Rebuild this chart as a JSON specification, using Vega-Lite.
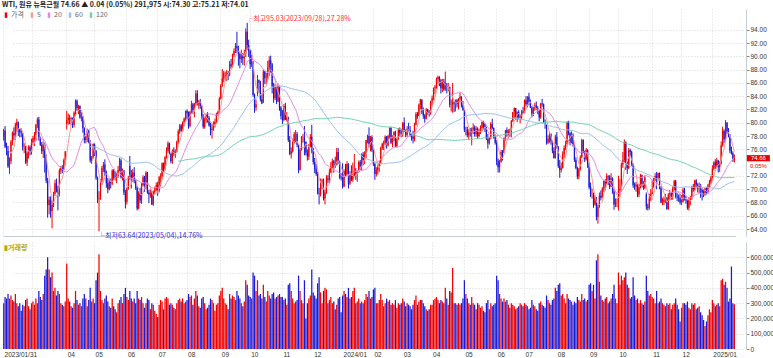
{
"$schema":"https://vega.github.io/schema/vega-lite/v6.json",
"padding":{"top":1,"left":0,"right":0,"bottom":0},
"background":"white",
"spacing":2,
"config":{"font":"Noto Sans CJK KR","view":{"stroke":null},"axis":{"labelFontSize":6.5,"labelFont":"Liberation Sans","labelColor":"#333","gridColor":"#d6d6d6","gridDash":[1,2],"domainColor":"#c5ccd8","tickColor":"#888","tickSize":3,"labelPadding":1,"labelOverlap":false,"labelSeparation":0},"axisY":{"labelOverlap":false},"axisRight":{"labelOverlap":false},"axisQuantitative":{"labelOverlap":false}},
"title":{"text":"WTI, 원유 뉴욕근월   74.66  ▲ 0.04 (0.05%)    291,975  시:74.30  고:75.21  저:74.01","anchor":"start","fontSize":7,"fontWeight":"bold","color":"#222","offset":1,"dx":2},
"datasets":{"wti":[
{"d":"2023-01-31","o":77.9,"h":79.1,"l":77.3,"c":78.9,"v":300},
{"d":"2023-02-01","o":78.8,"h":79.5,"l":76.2,"c":76.4,"v":340},
{"d":"2023-02-02","o":76.5,"h":77.0,"l":75.1,"c":75.9,"v":330},
{"d":"2023-02-03","o":75.8,"h":76.5,"l":73.2,"c":73.4,"v":360},
{"d":"2023-02-06","o":73.5,"h":74.8,"l":72.3,"c":74.1,"v":330},
{"d":"2023-02-07","o":74.2,"h":77.4,"l":73.8,"c":77.1,"v":350},
{"d":"2023-02-08","o":77.1,"h":78.7,"l":76.6,"c":78.5,"v":320},
{"d":"2023-02-09","o":78.4,"h":79.3,"l":77.4,"c":78.1,"v":310},
{"d":"2023-02-10","o":78.0,"h":80.0,"l":77.4,"c":79.7,"v":360},
{"d":"2023-02-13","o":79.6,"h":80.6,"l":78.6,"c":80.1,"v":300},
{"d":"2023-02-14","o":80.0,"h":80.2,"l":78.0,"c":79.1,"v":280},
{"d":"2023-02-15","o":79.0,"h":79.1,"l":77.8,"c":78.6,"v":300},
{"d":"2023-02-16","o":78.7,"h":79.2,"l":77.8,"c":78.5,"v":250},
{"d":"2023-02-17","o":78.4,"h":78.5,"l":75.8,"c":76.3,"v":290},
{"d":"2023-02-21","o":76.4,"h":76.9,"l":75.4,"c":76.4,"v":280},
{"d":"2023-02-22","o":76.4,"h":76.5,"l":73.8,"c":74.0,"v":320},
{"d":"2023-02-23","o":74.0,"h":75.7,"l":73.5,"c":75.4,"v":330},
{"d":"2023-02-24","o":75.4,"h":76.6,"l":74.6,"c":76.3,"v":280},
{"d":"2023-02-27","o":76.3,"h":76.6,"l":75.1,"c":75.7,"v":260},
{"d":"2023-02-28","o":75.6,"h":77.6,"l":75.2,"c":77.1,"v":300},
{"d":"2023-03-01","o":77.0,"h":78.0,"l":76.7,"c":77.7,"v":310},
{"d":"2023-03-02","o":77.6,"h":78.6,"l":76.5,"c":78.2,"v":290},
{"d":"2023-03-03","o":78.2,"h":79.8,"l":77.3,"c":79.7,"v":330},
{"d":"2023-03-06","o":79.7,"h":80.8,"l":79.2,"c":80.5,"v":300},
{"d":"2023-03-07","o":80.5,"h":80.9,"l":77.3,"c":77.6,"v":380},
{"d":"2023-03-08","o":77.6,"h":77.9,"l":76.5,"c":76.7,"v":340},
{"d":"2023-03-09","o":76.7,"h":77.1,"l":75.3,"c":75.7,"v":320},
{"d":"2023-03-10","o":75.7,"h":77.3,"l":74.7,"c":76.7,"v":360},
{"d":"2023-03-13","o":76.7,"h":77.0,"l":72.5,"c":74.8,"v":480},
{"d":"2023-03-14","o":74.8,"h":75.2,"l":70.9,"c":71.3,"v":520},
{"d":"2023-03-15","o":71.3,"h":71.7,"l":65.7,"c":67.6,"v":600},
{"d":"2023-03-16","o":67.6,"h":68.9,"l":66.2,"c":68.4,"v":520},
{"d":"2023-03-17","o":68.4,"h":68.9,"l":65.7,"c":66.7,"v":470},
{"d":"2023-03-20","o":66.7,"h":68.3,"l":64.1,"c":67.6,"v":500},
{"d":"2023-03-21","o":67.6,"h":69.6,"l":67.3,"c":69.3,"v":380},
{"d":"2023-03-22","o":69.3,"h":71.4,"l":69.0,"c":70.9,"v":400},
{"d":"2023-03-23","o":70.9,"h":71.6,"l":69.5,"c":70.0,"v":350},
{"d":"2023-03-24","o":70.0,"h":70.5,"l":66.8,"c":69.3,"v":380},
{"d":"2023-03-27","o":69.3,"h":73.1,"l":68.9,"c":72.8,"v":360},
{"d":"2023-03-28","o":72.8,"h":73.5,"l":72.3,"c":73.2,"v":300},
{"d":"2023-03-29","o":73.2,"h":73.6,"l":72.4,"c":73.0,"v":290},
{"d":"2023-03-30","o":73.0,"h":74.6,"l":72.9,"c":74.4,"v":280},
{"d":"2023-03-31","o":74.4,"h":75.7,"l":73.6,"c":75.7,"v":310},
{"d":"2023-04-03","o":79.9,"h":81.8,"l":79.0,"c":80.4,"v":560},
{"d":"2023-04-04","o":80.4,"h":81.4,"l":79.7,"c":80.7,"v":330},
{"d":"2023-04-05","o":80.7,"h":81.2,"l":79.8,"c":80.6,"v":310},
{"d":"2023-04-06","o":80.6,"h":80.9,"l":79.6,"c":80.7,"v":280},
{"d":"2023-04-10","o":80.6,"h":80.8,"l":79.2,"c":79.7,"v":270},
{"d":"2023-04-11","o":79.7,"h":81.7,"l":79.3,"c":81.5,"v":300},
{"d":"2023-04-12","o":81.5,"h":83.5,"l":81.0,"c":83.3,"v":380},
{"d":"2023-04-13","o":83.3,"h":83.5,"l":81.8,"c":82.2,"v":320},
{"d":"2023-04-14","o":82.2,"h":82.7,"l":81.3,"c":82.5,"v":290},
{"d":"2023-04-17","o":82.5,"h":82.6,"l":80.6,"c":80.8,"v":300},
{"d":"2023-04-18","o":80.8,"h":81.6,"l":80.2,"c":80.9,"v":280},
{"d":"2023-04-19","o":80.9,"h":81.0,"l":78.5,"c":79.2,"v":330},
{"d":"2023-04-20","o":79.2,"h":79.3,"l":76.9,"c":77.4,"v":360},
{"d":"2023-04-21","o":77.4,"h":78.0,"l":76.9,"c":77.9,"v":330},
{"d":"2023-04-24","o":77.9,"h":79.1,"l":77.1,"c":78.8,"v":280},
{"d":"2023-04-25","o":78.8,"h":78.9,"l":76.9,"c":77.1,"v":320},
{"d":"2023-04-26","o":77.1,"h":77.4,"l":74.0,"c":74.3,"v":400},
{"d":"2023-04-27","o":74.3,"h":75.0,"l":73.8,"c":74.8,"v":310},
{"d":"2023-04-28","o":74.8,"h":76.9,"l":74.6,"c":76.8,"v":330},
{"d":"2023-05-01","o":76.7,"h":76.9,"l":75.0,"c":75.7,"v":300},
{"d":"2023-05-02","o":75.7,"h":75.9,"l":71.4,"c":71.7,"v":450},
{"d":"2023-05-03","o":71.7,"h":71.9,"l":67.9,"c":68.6,"v":500},
{"d":"2023-05-04","o":68.5,"h":69.7,"l":63.64,"c":68.6,"v":620},
{"d":"2023-05-05","o":68.6,"h":71.5,"l":68.4,"c":71.3,"v":380},
{"d":"2023-05-08","o":71.3,"h":73.5,"l":70.7,"c":73.2,"v":320},
{"d":"2023-05-09","o":73.2,"h":74.1,"l":72.6,"c":73.7,"v":300},
{"d":"2023-05-10","o":73.7,"h":74.5,"l":72.0,"c":72.6,"v":330},
{"d":"2023-05-11","o":72.6,"h":72.8,"l":70.2,"c":70.9,"v":350},
{"d":"2023-05-12","o":70.9,"h":71.7,"l":69.4,"c":70.0,"v":310},
{"d":"2023-05-15","o":70.0,"h":71.5,"l":69.8,"c":71.1,"v":280},
{"d":"2023-05-16","o":71.1,"h":71.6,"l":70.1,"c":70.9,"v":270},
{"d":"2023-05-17","o":70.9,"h":73.0,"l":70.6,"c":72.8,"v":330},
{"d":"2023-05-18","o":72.8,"h":73.0,"l":71.4,"c":71.9,"v":280},
{"d":"2023-05-19","o":71.9,"h":72.7,"l":71.3,"c":71.7,"v":260},
{"d":"2023-05-22","o":71.7,"h":72.4,"l":70.9,"c":72.0,"v":240},
{"d":"2023-05-23","o":72.0,"h":73.5,"l":71.7,"c":72.9,"v":300},
{"d":"2023-05-24","o":72.9,"h":74.7,"l":72.7,"c":74.3,"v":320},
{"d":"2023-05-25","o":74.3,"h":74.6,"l":71.6,"c":71.8,"v":340},
{"d":"2023-05-26","o":71.8,"h":73.1,"l":71.3,"c":72.7,"v":300},
{"d":"2023-05-30","o":72.7,"h":72.9,"l":69.1,"c":69.5,"v":360},
{"d":"2023-05-31","o":69.5,"h":69.9,"l":67.1,"c":68.1,"v":400},
{"d":"2023-06-01","o":68.1,"h":70.3,"l":67.7,"c":70.1,"v":340},
{"d":"2023-06-02","o":70.1,"h":72.0,"l":69.9,"c":71.7,"v":320},
{"d":"2023-06-05","o":73.5,"h":75.0,"l":71.4,"c":72.2,"v":380},
{"d":"2023-06-06","o":72.2,"h":72.9,"l":70.1,"c":71.7,"v":330},
{"d":"2023-06-07","o":71.7,"h":73.0,"l":71.1,"c":72.5,"v":310},
{"d":"2023-06-08","o":72.5,"h":73.3,"l":70.9,"c":71.3,"v":330},
{"d":"2023-06-09","o":71.3,"h":71.4,"l":69.9,"c":70.2,"v":300},
{"d":"2023-06-12","o":70.2,"h":70.4,"l":66.8,"c":67.1,"v":380},
{"d":"2023-06-13","o":67.1,"h":69.7,"l":67.0,"c":69.4,"v":330},
{"d":"2023-06-14","o":69.4,"h":70.2,"l":67.9,"c":68.3,"v":320},
{"d":"2023-06-15","o":68.3,"h":70.9,"l":67.8,"c":70.6,"v":340},
{"d":"2023-06-16","o":70.6,"h":72.1,"l":70.4,"c":71.8,"v":300},
{"d":"2023-06-20","o":71.8,"h":72.0,"l":69.6,"c":70.5,"v":270},
{"d":"2023-06-21","o":70.5,"h":72.7,"l":70.0,"c":72.5,"v":300},
{"d":"2023-06-22","o":72.5,"h":72.6,"l":69.3,"c":69.5,"v":330},
{"d":"2023-06-23","o":69.5,"h":69.9,"l":67.9,"c":69.2,"v":320},
{"d":"2023-06-26","o":69.2,"h":70.0,"l":68.7,"c":69.4,"v":260},
{"d":"2023-06-27","o":69.4,"h":69.7,"l":67.6,"c":67.7,"v":300},
{"d":"2023-06-28","o":67.7,"h":69.8,"l":67.5,"c":69.6,"v":290},
{"d":"2023-06-29","o":69.6,"h":70.4,"l":69.3,"c":69.9,"v":250},
{"d":"2023-06-30","o":69.9,"h":71.0,"l":69.7,"c":70.6,"v":230},
{"d":"2023-07-03","o":70.6,"h":71.1,"l":69.0,"c":69.8,"v":210},
{"d":"2023-07-05","o":69.8,"h":72.0,"l":69.5,"c":71.8,"v":290},
{"d":"2023-07-06","o":71.8,"h":72.4,"l":70.4,"c":71.8,"v":320},
{"d":"2023-07-07","o":71.8,"h":74.0,"l":71.5,"c":73.9,"v":310},
{"d":"2023-07-10","o":73.9,"h":74.0,"l":72.6,"c":73.0,"v":260},
{"d":"2023-07-11","o":73.0,"h":75.0,"l":72.8,"c":74.8,"v":330},
{"d":"2023-07-12","o":74.8,"h":76.3,"l":74.6,"c":75.8,"v":340},
{"d":"2023-07-13","o":75.8,"h":77.2,"l":75.5,"c":76.9,"v":330},
{"d":"2023-07-14","o":76.9,"h":77.0,"l":75.2,"c":75.4,"v":290},
{"d":"2023-07-17","o":75.4,"h":75.5,"l":73.9,"c":74.2,"v":300},
{"d":"2023-07-18","o":74.2,"h":76.0,"l":73.8,"c":75.8,"v":290},
{"d":"2023-07-19","o":75.8,"h":76.3,"l":75.0,"c":75.4,"v":270},
{"d":"2023-07-20","o":75.4,"h":76.0,"l":74.7,"c":75.6,"v":260},
{"d":"2023-07-21","o":75.6,"h":77.3,"l":75.5,"c":77.1,"v":300},
{"d":"2023-07-24","o":77.1,"h":79.0,"l":76.8,"c":78.7,"v":320},
{"d":"2023-07-25","o":78.7,"h":79.8,"l":78.3,"c":79.6,"v":330},
{"d":"2023-07-26","o":79.6,"h":79.8,"l":78.6,"c":78.8,"v":310},
{"d":"2023-07-27","o":78.8,"h":80.2,"l":78.7,"c":80.1,"v":330},
{"d":"2023-07-28","o":80.1,"h":80.8,"l":79.5,"c":80.6,"v":300},
{"d":"2023-07-31","o":80.6,"h":81.8,"l":80.3,"c":81.8,"v":310},
{"d":"2023-08-01","o":81.8,"h":82.0,"l":80.5,"c":81.4,"v":320},
{"d":"2023-08-02","o":81.4,"h":81.7,"l":79.1,"c":79.5,"v":360},
{"d":"2023-08-03","o":79.5,"h":81.8,"l":79.3,"c":81.6,"v":340},
{"d":"2023-08-04","o":81.6,"h":83.3,"l":81.4,"c":82.8,"v":350},
{"d":"2023-08-07","o":82.8,"h":83.0,"l":81.3,"c":81.9,"v":290},
{"d":"2023-08-08","o":81.9,"h":83.0,"l":80.8,"c":82.9,"v":330},
{"d":"2023-08-09","o":82.9,"h":84.9,"l":82.5,"c":84.4,"v":380},
{"d":"2023-08-10","o":84.4,"h":84.9,"l":82.6,"c":82.8,"v":350},
{"d":"2023-08-11","o":82.8,"h":83.4,"l":82.1,"c":83.2,"v":280},
{"d":"2023-08-14","o":83.2,"h":83.6,"l":82.1,"c":82.5,"v":270},
{"d":"2023-08-15","o":82.5,"h":82.6,"l":80.6,"c":81.0,"v":330},
{"d":"2023-08-16","o":81.0,"h":81.3,"l":79.1,"c":79.4,"v":340},
{"d":"2023-08-17","o":79.4,"h":80.8,"l":79.1,"c":80.4,"v":300},
{"d":"2023-08-18","o":80.4,"h":81.4,"l":80.0,"c":81.3,"v":260},
{"d":"2023-08-21","o":81.3,"h":81.6,"l":80.0,"c":80.7,"v":270},
{"d":"2023-08-22","o":80.7,"h":81.0,"l":79.4,"c":79.6,"v":290},
{"d":"2023-08-23","o":79.6,"h":80.0,"l":78.1,"c":78.9,"v":330},
{"d":"2023-08-24","o":78.9,"h":79.8,"l":77.6,"c":79.1,"v":320},
{"d":"2023-08-25","o":79.1,"h":80.2,"l":78.8,"c":79.8,"v":300},
{"d":"2023-08-28","o":79.8,"h":80.6,"l":79.3,"c":80.1,"v":250},
{"d":"2023-08-29","o":80.1,"h":81.5,"l":79.9,"c":81.2,"v":290},
{"d":"2023-08-30","o":81.2,"h":81.8,"l":81.0,"c":81.6,"v":300},
{"d":"2023-08-31","o":81.6,"h":83.9,"l":81.5,"c":83.6,"v":350},
{"d":"2023-09-01","o":83.6,"h":85.8,"l":83.5,"c":85.6,"v":380},
{"d":"2023-09-05","o":85.6,"h":88.1,"l":85.4,"c":86.7,"v":400},
{"d":"2023-09-06","o":86.7,"h":87.8,"l":86.1,"c":87.5,"v":330},
{"d":"2023-09-07","o":87.5,"h":87.7,"l":86.4,"c":87.5,"v":300},
{"d":"2023-09-08","o":87.5,"h":87.9,"l":86.3,"c":87.5,"v":290},
{"d":"2023-09-11","o":87.5,"h":87.8,"l":86.4,"c":87.3,"v":260},
{"d":"2023-09-12","o":87.3,"h":89.3,"l":87.0,"c":88.8,"v":360},
{"d":"2023-09-13","o":88.8,"h":89.6,"l":88.2,"c":88.5,"v":330},
{"d":"2023-09-14","o":88.5,"h":90.4,"l":88.3,"c":90.2,"v":350},
{"d":"2023-09-15","o":90.2,"h":91.2,"l":89.9,"c":90.8,"v":340},
{"d":"2023-09-18","o":90.8,"h":92.0,"l":90.5,"c":91.5,"v":320},
{"d":"2023-09-19","o":91.5,"h":93.7,"l":90.5,"c":91.2,"v":380},
{"d":"2023-09-20","o":91.2,"h":91.6,"l":88.6,"c":90.3,"v":350},
{"d":"2023-09-21","o":90.3,"h":90.6,"l":88.2,"c":89.6,"v":330},
{"d":"2023-09-22","o":89.6,"h":91.0,"l":89.0,"c":90.0,"v":300},
{"d":"2023-09-25","o":90.0,"h":90.5,"l":88.7,"c":89.7,"v":280},
{"d":"2023-09-26","o":89.7,"h":91.0,"l":88.6,"c":90.4,"v":310},
{"d":"2023-09-27","o":90.4,"h":94.2,"l":89.9,"c":93.7,"v":450},
{"d":"2023-09-28","o":93.7,"h":95.03,"l":90.9,"c":91.7,"v":420},
{"d":"2023-09-29","o":91.7,"h":92.5,"l":89.9,"c":90.8,"v":350},
{"d":"2023-10-02","o":90.8,"h":91.0,"l":88.1,"c":88.8,"v":340},
{"d":"2023-10-03","o":88.8,"h":90.2,"l":88.4,"c":89.2,"v":330},
{"d":"2023-10-04","o":89.2,"h":89.3,"l":83.9,"c":84.2,"v":500},
{"d":"2023-10-05","o":84.2,"h":84.4,"l":81.5,"c":82.3,"v":480},
{"d":"2023-10-06","o":82.3,"h":83.5,"l":81.8,"c":82.8,"v":380},
{"d":"2023-10-09","o":84.5,"h":87.2,"l":84.0,"c":86.4,"v":450},
{"d":"2023-10-10","o":86.4,"h":86.5,"l":84.5,"c":86.0,"v":350},
{"d":"2023-10-11","o":86.0,"h":86.3,"l":83.2,"c":83.5,"v":360},
{"d":"2023-10-12","o":83.5,"h":84.4,"l":82.8,"c":82.9,"v":330},
{"d":"2023-10-13","o":83.1,"h":88.0,"l":83.0,"c":87.7,"v":420},
{"d":"2023-10-16","o":87.7,"h":87.8,"l":85.8,"c":86.7,"v":340},
{"d":"2023-10-17","o":86.7,"h":87.5,"l":85.8,"c":86.7,"v":310},
{"d":"2023-10-18","o":86.7,"h":89.3,"l":86.5,"c":88.3,"v":380},
{"d":"2023-10-19","o":88.3,"h":90.0,"l":87.0,"c":89.4,"v":350},
{"d":"2023-10-20","o":89.4,"h":90.1,"l":87.5,"c":88.8,"v":330},
{"d":"2023-10-23","o":88.8,"h":89.0,"l":84.4,"c":85.5,"v":360},
{"d":"2023-10-24","o":85.5,"h":86.0,"l":83.0,"c":83.7,"v":370},
{"d":"2023-10-25","o":83.7,"h":85.8,"l":83.4,"c":85.4,"v":330},
{"d":"2023-10-26","o":85.4,"h":85.5,"l":82.8,"c":83.2,"v":340},
{"d":"2023-10-27","o":83.2,"h":85.9,"l":83.1,"c":85.5,"v":350},
{"d":"2023-10-30","o":85.5,"h":85.5,"l":81.8,"c":82.3,"v":360},
{"d":"2023-10-31","o":82.3,"h":82.5,"l":80.5,"c":81.0,"v":340},
{"d":"2023-11-01","o":81.0,"h":81.9,"l":79.8,"c":80.4,"v":340},
{"d":"2023-11-02","o":80.4,"h":82.8,"l":80.2,"c":82.5,"v":320},
{"d":"2023-11-03","o":82.5,"h":83.0,"l":80.4,"c":80.5,"v":330},
{"d":"2023-11-06","o":80.5,"h":81.6,"l":80.2,"c":80.8,"v":290},
{"d":"2023-11-07","o":80.8,"h":80.9,"l":77.1,"c":77.4,"v":420},
{"d":"2023-11-08","o":77.4,"h":78.0,"l":75.1,"c":75.3,"v":430},
{"d":"2023-11-09","o":75.3,"h":76.3,"l":74.6,"c":75.7,"v":380},
{"d":"2023-11-10","o":75.7,"h":77.6,"l":75.5,"c":77.2,"v":330},
{"d":"2023-11-13","o":77.2,"h":78.6,"l":76.9,"c":78.3,"v":300},
{"d":"2023-11-14","o":78.3,"h":78.9,"l":77.1,"c":78.3,"v":310},
{"d":"2023-11-15","o":78.3,"h":78.6,"l":76.3,"c":76.7,"v":320},
{"d":"2023-11-16","o":76.7,"h":76.8,"l":72.4,"c":72.9,"v":480},
{"d":"2023-11-17","o":72.9,"h":76.2,"l":72.8,"c":75.9,"v":380},
{"d":"2023-11-20","o":75.9,"h":78.0,"l":75.8,"c":77.8,"v":320},
{"d":"2023-11-21","o":77.8,"h":78.3,"l":77.0,"c":77.8,"v":300},
{"d":"2023-11-22","o":77.8,"h":79.5,"l":75.1,"c":77.1,"v":450},
{"d":"2023-11-24","o":77.1,"h":77.2,"l":75.1,"c":75.5,"v":200},
{"d":"2023-11-27","o":75.5,"h":76.0,"l":74.3,"c":74.9,"v":300},
{"d":"2023-11-28","o":74.9,"h":76.8,"l":74.4,"c":76.4,"v":330},
{"d":"2023-11-29","o":76.4,"h":78.3,"l":76.3,"c":77.9,"v":350},
{"d":"2023-11-30","o":77.9,"h":79.7,"l":75.4,"c":76.0,"v":520},
{"d":"2023-12-01","o":76.0,"h":76.2,"l":73.7,"c":74.1,"v":370},
{"d":"2023-12-04","o":74.1,"h":74.7,"l":72.4,"c":73.0,"v":350},
{"d":"2023-12-05","o":73.0,"h":73.8,"l":72.0,"c":72.3,"v":330},
{"d":"2023-12-06","o":72.3,"h":72.6,"l":69.2,"c":69.4,"v":430},
{"d":"2023-12-07","o":69.4,"h":70.2,"l":67.7,"c":69.3,"v":470},
{"d":"2023-12-08","o":69.3,"h":71.6,"l":68.9,"c":71.2,"v":370},
{"d":"2023-12-11","o":71.2,"h":71.6,"l":70.0,"c":71.3,"v":300},
{"d":"2023-12-12","o":71.3,"h":71.6,"l":68.3,"c":68.6,"v":380},
{"d":"2023-12-13","o":68.6,"h":69.9,"l":67.7,"c":69.5,"v":400},
{"d":"2023-12-14","o":69.5,"h":72.1,"l":69.3,"c":71.6,"v":390},
{"d":"2023-12-15","o":71.6,"h":72.1,"l":70.9,"c":71.4,"v":300},
{"d":"2023-12-18","o":71.4,"h":73.1,"l":70.9,"c":72.5,"v":320},
{"d":"2023-12-19","o":72.5,"h":74.1,"l":72.4,"c":73.4,"v":340},
{"d":"2023-12-20","o":73.4,"h":74.6,"l":73.1,"c":74.2,"v":300},
{"d":"2023-12-21","o":74.2,"h":74.4,"l":72.5,"c":73.9,"v":310},
{"d":"2023-12-22","o":73.9,"h":74.9,"l":73.2,"c":73.6,"v":260},
{"d":"2023-12-26","o":73.6,"h":76.2,"l":73.6,"c":75.6,"v":290},
{"d":"2023-12-27","o":75.6,"h":76.2,"l":73.8,"c":74.1,"v":330},
{"d":"2023-12-28","o":74.1,"h":74.3,"l":71.5,"c":71.8,"v":340},
{"d":"2023-12-29","o":71.8,"h":72.4,"l":71.3,"c":71.7,"v":240},
{"d":"2024-01-02","o":71.7,"h":73.9,"l":70.1,"c":70.4,"v":350},
{"d":"2024-01-03","o":70.4,"h":73.0,"l":70.3,"c":72.7,"v":380},
{"d":"2024-01-04","o":72.7,"h":73.8,"l":71.9,"c":72.2,"v":360},
{"d":"2024-01-05","o":72.2,"h":74.2,"l":72.1,"c":73.8,"v":340},
{"d":"2024-01-08","o":73.8,"h":73.9,"l":70.1,"c":70.8,"v":400},
{"d":"2024-01-09","o":70.8,"h":72.7,"l":70.6,"c":72.2,"v":330},
{"d":"2024-01-10","o":72.2,"h":73.6,"l":71.2,"c":71.4,"v":340},
{"d":"2024-01-11","o":71.4,"h":74.0,"l":71.1,"c":72.0,"v":380},
{"d":"2024-01-12","o":72.0,"h":75.3,"l":71.9,"c":72.7,"v":400},
{"d":"2024-01-16","o":72.7,"h":73.2,"l":71.4,"c":72.4,"v":300},
{"d":"2024-01-17","o":72.4,"h":72.8,"l":71.1,"c":72.6,"v":310},
{"d":"2024-01-18","o":72.6,"h":74.3,"l":72.5,"c":74.1,"v":330},
{"d":"2024-01-19","o":74.1,"h":74.4,"l":72.9,"c":73.4,"v":300},
{"d":"2024-01-22","o":73.4,"h":75.4,"l":72.8,"c":75.2,"v":310},
{"d":"2024-01-23","o":75.2,"h":75.6,"l":73.6,"c":74.4,"v":300},
{"d":"2024-01-24","o":74.4,"h":75.7,"l":73.8,"c":75.1,"v":320},
{"d":"2024-01-25","o":75.1,"h":77.4,"l":74.6,"c":77.4,"v":360},
{"d":"2024-01-26","o":77.4,"h":78.2,"l":76.9,"c":78.0,"v":340},
{"d":"2024-01-29","o":78.0,"h":79.3,"l":76.3,"c":76.8,"v":380},
{"d":"2024-01-30","o":76.8,"h":78.0,"l":75.7,"c":77.8,"v":330},
{"d":"2024-01-31","o":77.8,"h":78.1,"l":75.6,"c":75.9,"v":340},
{"d":"2024-02-01","o":75.9,"h":76.0,"l":73.5,"c":73.8,"v":390},
{"d":"2024-02-02","o":73.8,"h":74.1,"l":71.4,"c":72.3,"v":400},
{"d":"2024-02-05","o":72.3,"h":73.3,"l":71.9,"c":72.8,"v":300},
{"d":"2024-02-06","o":72.8,"h":73.7,"l":72.2,"c":73.3,"v":300},
{"d":"2024-02-07","o":73.3,"h":74.2,"l":72.6,"c":73.9,"v":320},
{"d":"2024-02-08","o":73.9,"h":76.4,"l":73.8,"c":76.2,"v":360},
{"d":"2024-02-09","o":76.2,"h":77.0,"l":75.9,"c":76.8,"v":320},
{"d":"2024-02-12","o":76.8,"h":77.3,"l":75.9,"c":76.9,"v":280},
{"d":"2024-02-13","o":76.9,"h":78.1,"l":76.6,"c":77.9,"v":300},
{"d":"2024-02-14","o":77.9,"h":78.0,"l":76.1,"c":76.6,"v":330},
{"d":"2024-02-15","o":76.6,"h":78.2,"l":76.4,"c":78.0,"v":310},
{"d":"2024-02-16","o":78.0,"h":79.3,"l":77.6,"c":79.2,"v":320},
{"d":"2024-02-20","o":79.2,"h":79.4,"l":76.8,"c":77.0,"v":290},
{"d":"2024-02-21","o":77.0,"h":78.1,"l":76.3,"c":77.9,"v":300},
{"d":"2024-02-22","o":77.9,"h":78.7,"l":77.2,"c":78.6,"v":290},
{"d":"2024-02-23","o":78.6,"h":78.8,"l":76.3,"c":76.5,"v":320},
{"d":"2024-02-26","o":76.5,"h":77.8,"l":76.3,"c":77.6,"v":270},
{"d":"2024-02-27","o":77.6,"h":79.2,"l":77.4,"c":78.9,"v":300},
{"d":"2024-02-28","o":78.9,"h":79.3,"l":77.9,"c":78.5,"v":290},
{"d":"2024-02-29","o":78.5,"h":79.1,"l":77.8,"c":78.3,"v":300},
{"d":"2024-03-01","o":78.3,"h":80.1,"l":77.9,"c":80.0,"v":330},
{"d":"2024-03-04","o":80.0,"h":80.8,"l":78.6,"c":78.7,"v":310},
{"d":"2024-03-05","o":78.7,"h":79.0,"l":77.8,"c":78.2,"v":280},
{"d":"2024-03-06","o":78.2,"h":79.5,"l":77.9,"c":79.1,"v":300},
{"d":"2024-03-07","o":79.1,"h":80.0,"l":78.7,"c":78.9,"v":290},
{"d":"2024-03-08","o":78.9,"h":79.5,"l":77.9,"c":78.0,"v":280},
{"d":"2024-03-11","o":78.0,"h":78.4,"l":77.3,"c":77.9,"v":260},
{"d":"2024-03-12","o":77.9,"h":78.8,"l":76.9,"c":77.6,"v":290},
{"d":"2024-03-13","o":77.6,"h":80.0,"l":77.2,"c":79.7,"v":320},
{"d":"2024-03-14","o":79.7,"h":81.6,"l":79.6,"c":81.3,"v":350},
{"d":"2024-03-15","o":81.3,"h":81.6,"l":80.6,"c":81.0,"v":290},
{"d":"2024-03-18","o":81.0,"h":82.9,"l":81.0,"c":82.7,"v":310},
{"d":"2024-03-19","o":82.7,"h":83.6,"l":82.0,"c":83.5,"v":320},
{"d":"2024-03-20","o":83.5,"h":83.5,"l":81.3,"c":81.7,"v":320},
{"d":"2024-03-21","o":81.7,"h":82.3,"l":80.6,"c":81.1,"v":300},
{"d":"2024-03-22","o":81.1,"h":81.3,"l":80.0,"c":80.6,"v":280},
{"d":"2024-03-25","o":80.6,"h":82.2,"l":80.5,"c":82.0,"v":260},
{"d":"2024-03-26","o":82.0,"h":82.1,"l":81.2,"c":81.6,"v":250},
{"d":"2024-03-27","o":81.6,"h":81.9,"l":80.9,"c":81.4,"v":260},
{"d":"2024-03-28","o":81.4,"h":83.3,"l":81.2,"c":83.2,"v":290},
{"d":"2024-04-01","o":83.2,"h":84.1,"l":82.6,"c":83.7,"v":290},
{"d":"2024-04-02","o":83.7,"h":85.3,"l":83.4,"c":85.2,"v":320},
{"d":"2024-04-03","o":85.2,"h":85.7,"l":84.3,"c":85.4,"v":330},
{"d":"2024-04-04","o":85.4,"h":86.8,"l":85.1,"c":86.6,"v":340},
{"d":"2024-04-05","o":86.6,"h":87.1,"l":85.9,"c":86.9,"v":320},
{"d":"2024-04-08","o":86.9,"h":87.0,"l":85.5,"c":86.4,"v":300},
{"d":"2024-04-09","o":86.4,"h":86.6,"l":84.4,"c":85.2,"v":320},
{"d":"2024-04-10","o":85.2,"h":86.6,"l":84.6,"c":86.2,"v":310},
{"d":"2024-04-11","o":86.2,"h":86.6,"l":84.8,"c":85.0,"v":300},
{"d":"2024-04-12","o":85.0,"h":87.7,"l":84.8,"c":85.7,"v":400},
{"d":"2024-04-15","o":85.7,"h":86.0,"l":84.4,"c":85.4,"v":330},
{"d":"2024-04-16","o":85.4,"h":86.0,"l":84.7,"c":85.4,"v":290},
{"d":"2024-04-17","o":85.4,"h":85.4,"l":82.3,"c":82.7,"v":380},
{"d":"2024-04-18","o":82.7,"h":83.5,"l":81.7,"c":82.7,"v":370},
{"d":"2024-04-19","o":82.7,"h":86.0,"l":81.5,"c":83.1,"v":530},
{"d":"2024-04-22","o":83.1,"h":83.2,"l":81.6,"c":82.9,"v":300},
{"d":"2024-04-23","o":82.9,"h":83.5,"l":81.7,"c":83.4,"v":300},
{"d":"2024-04-24","o":83.4,"h":83.6,"l":82.3,"c":82.8,"v":290},
{"d":"2024-04-25","o":82.8,"h":83.7,"l":82.0,"c":83.6,"v":300},
{"d":"2024-04-26","o":83.6,"h":84.5,"l":83.1,"c":83.9,"v":290},
{"d":"2024-04-29","o":83.9,"h":84.0,"l":82.3,"c":82.6,"v":300},
{"d":"2024-04-30","o":82.6,"h":83.3,"l":81.8,"c":81.9,"v":330},
{"d":"2024-05-01","o":81.9,"h":82.0,"l":78.6,"c":79.0,"v":450},
{"d":"2024-05-02","o":79.0,"h":79.4,"l":78.1,"c":79.0,"v":360},
{"d":"2024-05-03","o":79.0,"h":79.4,"l":77.8,"c":78.1,"v":330},
{"d":"2024-05-06","o":78.1,"h":79.0,"l":77.4,"c":78.5,"v":300},
{"d":"2024-05-07","o":78.5,"h":79.2,"l":77.9,"c":78.4,"v":290},
{"d":"2024-05-08","o":78.4,"h":79.3,"l":76.6,"c":79.0,"v":340},
{"d":"2024-05-09","o":79.0,"h":79.9,"l":78.3,"c":79.3,"v":300},
{"d":"2024-05-10","o":79.3,"h":79.6,"l":77.9,"c":78.3,"v":290},
{"d":"2024-05-13","o":78.3,"h":79.5,"l":77.9,"c":79.1,"v":260},
{"d":"2024-05-14","o":79.1,"h":79.3,"l":77.6,"c":78.0,"v":300},
{"d":"2024-05-15","o":78.0,"h":79.1,"l":77.8,"c":78.6,"v":290},
{"d":"2024-05-16","o":78.6,"h":79.6,"l":78.3,"c":79.2,"v":270},
{"d":"2024-05-17","o":79.2,"h":80.2,"l":78.7,"c":80.1,"v":280},
{"d":"2024-05-20","o":80.1,"h":80.3,"l":79.0,"c":79.8,"v":250},
{"d":"2024-05-21","o":79.8,"h":79.9,"l":78.6,"c":79.3,"v":240},
{"d":"2024-05-22","o":79.3,"h":79.4,"l":77.4,"c":77.6,"v":300},
{"d":"2024-05-23","o":77.6,"h":78.3,"l":76.1,"c":76.9,"v":320},
{"d":"2024-05-24","o":76.9,"h":77.9,"l":76.7,"c":77.7,"v":260},
{"d":"2024-05-28","o":77.7,"h":80.1,"l":77.5,"c":79.8,"v":300},
{"d":"2024-05-29","o":79.8,"h":80.6,"l":79.0,"c":79.2,"v":280},
{"d":"2024-05-30","o":79.2,"h":79.3,"l":77.6,"c":77.9,"v":290},
{"d":"2024-05-31","o":77.9,"h":78.3,"l":76.7,"c":77.0,"v":300},
{"d":"2024-06-03","o":77.0,"h":77.4,"l":73.6,"c":74.2,"v":480},
{"d":"2024-06-04","o":74.2,"h":74.6,"l":72.5,"c":73.3,"v":450},
{"d":"2024-06-05","o":73.3,"h":74.4,"l":72.5,"c":74.1,"v":360},
{"d":"2024-06-06","o":74.1,"h":75.9,"l":74.0,"c":75.6,"v":330},
{"d":"2024-06-07","o":75.6,"h":75.9,"l":74.3,"c":75.5,"v":310},
{"d":"2024-06-10","o":75.5,"h":77.8,"l":75.4,"c":77.7,"v":330},
{"d":"2024-06-11","o":77.7,"h":78.9,"l":77.3,"c":78.9,"v":310},
{"d":"2024-06-12","o":78.9,"h":79.3,"l":77.9,"c":78.5,"v":320},
{"d":"2024-06-13","o":78.5,"h":79.0,"l":77.6,"c":78.6,"v":290},
{"d":"2024-06-14","o":78.6,"h":79.1,"l":77.9,"c":78.5,"v":270},
{"d":"2024-06-17","o":78.5,"h":80.4,"l":77.8,"c":80.3,"v":300},
{"d":"2024-06-18","o":80.3,"h":81.6,"l":80.1,"c":81.6,"v":290},
{"d":"2024-06-20","o":81.6,"h":82.3,"l":80.6,"c":82.2,"v":280},
{"d":"2024-06-21","o":82.2,"h":82.2,"l":80.4,"c":80.7,"v":260},
{"d":"2024-06-24","o":80.7,"h":81.7,"l":80.1,"c":81.6,"v":270},
{"d":"2024-06-25","o":81.6,"h":81.9,"l":80.5,"c":80.8,"v":280},
{"d":"2024-06-26","o":80.8,"h":81.3,"l":79.9,"c":80.9,"v":300},
{"d":"2024-06-27","o":80.9,"h":81.9,"l":80.5,"c":81.7,"v":290},
{"d":"2024-06-28","o":81.7,"h":82.4,"l":81.3,"c":81.5,"v":280},
{"d":"2024-07-01","o":81.5,"h":83.5,"l":81.4,"c":83.4,"v":300},
{"d":"2024-07-02","o":83.4,"h":84.0,"l":82.5,"c":82.8,"v":290},
{"d":"2024-07-03","o":82.8,"h":84.0,"l":82.3,"c":83.9,"v":280},
{"d":"2024-07-05","o":83.9,"h":84.5,"l":82.6,"c":83.2,"v":260},
{"d":"2024-07-08","o":83.2,"h":83.5,"l":82.2,"c":82.3,"v":270},
{"d":"2024-07-09","o":82.3,"h":82.5,"l":80.8,"c":81.4,"v":320},
{"d":"2024-07-10","o":81.4,"h":82.4,"l":81.0,"c":82.1,"v":290},
{"d":"2024-07-11","o":82.1,"h":83.0,"l":81.8,"c":82.6,"v":280},
{"d":"2024-07-12","o":82.6,"h":83.2,"l":81.9,"c":82.2,"v":260},
{"d":"2024-07-15","o":82.2,"h":82.5,"l":81.3,"c":81.9,"v":250},
{"d":"2024-07-16","o":81.9,"h":82.0,"l":80.2,"c":80.8,"v":300},
{"d":"2024-07-17","o":80.8,"h":83.0,"l":80.6,"c":82.9,"v":310},
{"d":"2024-07-18","o":82.9,"h":83.6,"l":82.4,"c":82.8,"v":290},
{"d":"2024-07-19","o":82.8,"h":82.9,"l":79.9,"c":80.1,"v":280},
{"d":"2024-07-22","o":80.1,"h":80.5,"l":79.1,"c":79.8,"v":270},
{"d":"2024-07-23","o":79.8,"h":79.8,"l":76.7,"c":77.0,"v":350},
{"d":"2024-07-24","o":77.0,"h":78.1,"l":76.8,"c":77.6,"v":320},
{"d":"2024-07-25","o":77.6,"h":78.6,"l":77.0,"c":78.3,"v":300},
{"d":"2024-07-26","o":78.3,"h":78.4,"l":76.7,"c":77.2,"v":290},
{"d":"2024-07-29","o":77.2,"h":77.3,"l":75.4,"c":75.8,"v":320},
{"d":"2024-07-30","o":75.8,"h":76.3,"l":74.6,"c":74.7,"v":330},
{"d":"2024-07-31","o":74.7,"h":78.2,"l":74.6,"c":77.9,"v":400},
{"d":"2024-08-01","o":77.9,"h":78.6,"l":76.1,"c":76.3,"v":380},
{"d":"2024-08-02","o":76.3,"h":76.5,"l":73.2,"c":73.5,"v":420},
{"d":"2024-08-05","o":73.5,"h":74.4,"l":71.7,"c":72.9,"v":430},
{"d":"2024-08-06","o":72.9,"h":74.0,"l":72.5,"c":73.2,"v":350},
{"d":"2024-08-07","o":73.2,"h":75.7,"l":73.1,"c":75.2,"v":360},
{"d":"2024-08-08","o":75.2,"h":76.6,"l":74.7,"c":76.2,"v":330},
{"d":"2024-08-09","o":76.2,"h":77.3,"l":75.9,"c":76.8,"v":300},
{"d":"2024-08-12","o":76.8,"h":80.2,"l":76.7,"c":80.1,"v":360},
{"d":"2024-08-13","o":80.1,"h":80.3,"l":78.1,"c":78.4,"v":330},
{"d":"2024-08-14","o":78.4,"h":78.6,"l":76.6,"c":77.0,"v":320},
{"d":"2024-08-15","o":77.0,"h":78.7,"l":76.9,"c":78.2,"v":310},
{"d":"2024-08-16","o":78.2,"h":78.4,"l":76.4,"c":76.7,"v":290},
{"d":"2024-08-19","o":76.7,"h":76.7,"l":74.1,"c":74.4,"v":310},
{"d":"2024-08-20","o":74.4,"h":74.8,"l":73.0,"c":73.2,"v":300},
{"d":"2024-08-21","o":73.2,"h":73.4,"l":71.5,"c":71.9,"v":340},
{"d":"2024-08-22","o":71.9,"h":73.2,"l":71.5,"c":73.0,"v":320},
{"d":"2024-08-23","o":73.0,"h":75.1,"l":72.8,"c":74.8,"v":310},
{"d":"2024-08-26","o":74.8,"h":77.6,"l":74.7,"c":77.4,"v":360},
{"d":"2024-08-27","o":77.4,"h":77.5,"l":75.4,"c":75.5,"v":320},
{"d":"2024-08-28","o":75.5,"h":75.8,"l":74.1,"c":74.5,"v":330},
{"d":"2024-08-29","o":74.5,"h":76.2,"l":74.3,"c":75.9,"v":310},
{"d":"2024-08-30","o":75.9,"h":76.0,"l":73.2,"c":73.6,"v":320},
{"d":"2024-09-03","o":73.6,"h":74.0,"l":70.0,"c":70.3,"v":420},
{"d":"2024-09-04","o":70.3,"h":71.0,"l":68.8,"c":69.2,"v":430},
{"d":"2024-09-05","o":69.2,"h":70.1,"l":68.6,"c":69.2,"v":380},
{"d":"2024-09-06","o":69.2,"h":69.5,"l":67.2,"c":67.7,"v":420},
{"d":"2024-09-09","o":67.7,"h":69.1,"l":67.5,"c":68.7,"v":330},
{"d":"2024-09-10","o":68.7,"h":68.8,"l":65.3,"c":65.8,"v":580},
{"d":"2024-09-11","o":65.8,"h":67.7,"l":64.8,"c":67.3,"v":620},
{"d":"2024-09-12","o":67.3,"h":69.5,"l":67.2,"c":69.0,"v":440},
{"d":"2024-09-13","o":69.0,"h":69.8,"l":68.3,"c":68.7,"v":350},
{"d":"2024-09-16","o":68.7,"h":70.3,"l":68.6,"c":70.1,"v":320},
{"d":"2024-09-17","o":70.1,"h":71.3,"l":69.6,"c":71.2,"v":310},
{"d":"2024-09-18","o":71.2,"h":71.5,"l":69.8,"c":70.9,"v":330},
{"d":"2024-09-19","o":70.9,"h":72.4,"l":70.7,"c":72.0,"v":340},
{"d":"2024-09-20","o":72.0,"h":72.1,"l":70.6,"c":71.9,"v":300},
{"d":"2024-09-23","o":71.9,"h":72.1,"l":70.0,"c":70.4,"v":310},
{"d":"2024-09-24","o":70.4,"h":72.4,"l":70.3,"c":71.6,"v":330},
{"d":"2024-09-25","o":71.6,"h":71.8,"l":69.3,"c":69.7,"v":360},
{"d":"2024-09-26","o":69.7,"h":70.0,"l":66.9,"c":67.7,"v":420},
{"d":"2024-09-27","o":67.7,"h":68.6,"l":67.3,"c":68.2,"v":330},
{"d":"2024-09-30","o":68.2,"h":68.6,"l":67.3,"c":68.2,"v":300},
{"d":"2024-10-01","o":68.2,"h":72.0,"l":66.8,"c":69.8,"v":500},
{"d":"2024-10-02","o":69.8,"h":71.5,"l":68.9,"c":70.1,"v":420},
{"d":"2024-10-03","o":70.1,"h":74.0,"l":69.6,"c":73.7,"v":480},
{"d":"2024-10-04","o":73.7,"h":75.6,"l":73.2,"c":74.4,"v":450},
{"d":"2024-10-07","o":74.4,"h":77.5,"l":74.0,"c":77.1,"v":470},
{"d":"2024-10-08","o":77.1,"h":77.2,"l":72.9,"c":73.6,"v":500},
{"d":"2024-10-09","o":73.6,"h":74.2,"l":72.3,"c":73.2,"v":420},
{"d":"2024-10-10","o":73.2,"h":76.2,"l":73.0,"c":75.9,"v":400},
{"d":"2024-10-11","o":75.9,"h":76.1,"l":74.9,"c":75.6,"v":330},
{"d":"2024-10-14","o":75.6,"h":75.8,"l":73.5,"c":73.8,"v":340},
{"d":"2024-10-15","o":73.8,"h":73.9,"l":70.2,"c":70.6,"v":470},
{"d":"2024-10-16","o":70.6,"h":71.0,"l":69.9,"c":70.4,"v":350},
{"d":"2024-10-17","o":70.4,"h":71.1,"l":69.6,"c":70.7,"v":320},
{"d":"2024-10-18","o":70.7,"h":70.8,"l":68.8,"c":69.2,"v":330},
{"d":"2024-10-21","o":69.2,"h":70.8,"l":68.8,"c":70.6,"v":300},
{"d":"2024-10-22","o":70.6,"h":72.3,"l":70.1,"c":72.1,"v":320},
{"d":"2024-10-23","o":72.1,"h":72.2,"l":70.3,"c":70.8,"v":300},
{"d":"2024-10-24","o":70.8,"h":71.2,"l":69.9,"c":70.2,"v":290},
{"d":"2024-10-25","o":70.2,"h":72.0,"l":70.0,"c":71.8,"v":310},
{"d":"2024-10-28","o":69.2,"h":69.5,"l":66.9,"c":67.4,"v":480},
{"d":"2024-10-29","o":67.4,"h":67.8,"l":66.8,"c":67.2,"v":380},
{"d":"2024-10-30","o":67.2,"h":69.3,"l":66.9,"c":68.6,"v":350},
{"d":"2024-10-31","o":68.6,"h":70.0,"l":68.2,"c":69.3,"v":360},
{"d":"2024-11-01","o":69.3,"h":71.4,"l":69.2,"c":69.5,"v":340},
{"d":"2024-11-04","o":70.5,"h":71.7,"l":70.2,"c":71.5,"v":330},
{"d":"2024-11-05","o":71.5,"h":72.4,"l":71.2,"c":72.0,"v":300},
{"d":"2024-11-06","o":72.0,"h":72.6,"l":70.0,"c":71.7,"v":380},
{"d":"2024-11-07","o":71.7,"h":72.5,"l":71.3,"c":72.4,"v":300},
{"d":"2024-11-08","o":72.4,"h":72.5,"l":70.0,"c":70.4,"v":310},
{"d":"2024-11-11","o":70.4,"h":70.4,"l":67.9,"c":68.0,"v":330},
{"d":"2024-11-12","o":68.0,"h":68.7,"l":67.6,"c":68.1,"v":300},
{"d":"2024-11-13","o":68.1,"h":68.9,"l":67.6,"c":68.4,"v":290},
{"d":"2024-11-14","o":68.4,"h":69.3,"l":67.9,"c":68.7,"v":280},
{"d":"2024-11-15","o":68.7,"h":68.8,"l":66.9,"c":67.0,"v":300},
{"d":"2024-11-18","o":67.0,"h":69.4,"l":66.9,"c":69.2,"v":290},
{"d":"2024-11-19","o":69.2,"h":69.9,"l":68.3,"c":69.4,"v":300},
{"d":"2024-11-20","o":69.4,"h":69.6,"l":68.4,"c":68.9,"v":260},
{"d":"2024-11-21","o":68.9,"h":70.4,"l":68.4,"c":70.1,"v":290},
{"d":"2024-11-22","o":70.1,"h":71.4,"l":69.8,"c":71.2,"v":300},
{"d":"2024-11-25","o":71.2,"h":71.4,"l":68.6,"c":68.9,"v":330},
{"d":"2024-11-26","o":68.9,"h":69.4,"l":68.2,"c":68.8,"v":290},
{"d":"2024-11-27","o":68.8,"h":69.2,"l":68.1,"c":68.7,"v":260},
{"d":"2024-11-29","o":68.7,"h":69.3,"l":67.7,"c":68.0,"v":180},
{"d":"2024-12-02","o":68.0,"h":69.1,"l":67.6,"c":68.1,"v":270},
{"d":"2024-12-03","o":68.1,"h":70.2,"l":68.0,"c":69.9,"v":300},
{"d":"2024-12-04","o":69.9,"h":70.2,"l":68.3,"c":68.5,"v":300},
{"d":"2024-12-05","o":68.5,"h":69.0,"l":67.8,"c":68.3,"v":290},
{"d":"2024-12-06","o":68.3,"h":68.5,"l":66.9,"c":67.2,"v":310},
{"d":"2024-12-09","o":67.2,"h":68.8,"l":66.8,"c":68.4,"v":270},
{"d":"2024-12-10","o":68.4,"h":69.0,"l":67.6,"c":68.6,"v":260},
{"d":"2024-12-11","o":68.6,"h":70.5,"l":68.4,"c":70.3,"v":300},
{"d":"2024-12-12","o":70.3,"h":70.8,"l":69.6,"c":70.0,"v":290},
{"d":"2024-12-13","o":70.0,"h":71.4,"l":69.8,"c":71.3,"v":300},
{"d":"2024-12-16","o":71.3,"h":71.5,"l":70.2,"c":70.7,"v":260},
{"d":"2024-12-17","o":70.7,"h":70.9,"l":69.5,"c":70.1,"v":270},
{"d":"2024-12-18","o":70.1,"h":71.0,"l":69.4,"c":70.6,"v":280},
{"d":"2024-12-19","o":70.6,"h":70.8,"l":68.7,"c":69.9,"v":240},
{"d":"2024-12-20","o":69.9,"h":70.1,"l":68.3,"c":69.5,"v":220},
{"d":"2024-12-23","o":69.5,"h":70.0,"l":68.8,"c":69.2,"v":190},
{"d":"2024-12-24","o":69.2,"h":70.2,"l":69.0,"c":70.1,"v":150},
{"d":"2024-12-26","o":70.1,"h":70.3,"l":69.2,"c":69.6,"v":180},
{"d":"2024-12-27","o":69.6,"h":70.8,"l":69.3,"c":70.6,"v":220},
{"d":"2024-12-30","o":70.6,"h":71.4,"l":70.3,"c":71.0,"v":260},
{"d":"2024-12-31","o":71.0,"h":72.0,"l":70.7,"c":71.7,"v":240},
{"d":"2025-01-02","o":71.7,"h":73.6,"l":71.4,"c":73.1,"v":320},
{"d":"2025-01-03","o":73.1,"h":74.2,"l":72.8,"c":74.0,"v":300},
{"d":"2025-01-06","o":74.0,"h":74.5,"l":73.0,"c":73.6,"v":280},
{"d":"2025-01-07","o":73.6,"h":74.7,"l":73.3,"c":74.3,"v":290},
{"d":"2025-01-08","o":74.3,"h":74.4,"l":72.5,"c":73.3,"v":300},
{"d":"2025-01-09","o":73.3,"h":74.2,"l":72.6,"c":73.9,"v":280},
{"d":"2025-01-10","o":73.9,"h":77.2,"l":73.7,"c":76.6,"v":450},
{"d":"2025-01-13","o":76.6,"h":79.4,"l":76.4,"c":78.8,"v":460},
{"d":"2025-01-14","o":78.8,"h":79.0,"l":76.9,"c":77.5,"v":420},
{"d":"2025-01-15","o":77.5,"h":80.4,"l":77.2,"c":80.0,"v":440},
{"d":"2025-01-16","o":80.0,"h":80.1,"l":78.3,"c":78.7,"v":400},
{"d":"2025-01-17","o":78.7,"h":79.2,"l":77.8,"c":77.9,"v":310},
{"d":"2025-01-21","o":77.9,"h":78.3,"l":75.4,"c":75.8,"v":330},
{"d":"2025-01-22","o":75.8,"h":76.4,"l":75.2,"c":75.4,"v":540},
{"d":"2025-01-23","o":75.4,"h":75.7,"l":74.1,"c":74.6,"v":300},
{"d":"2025-01-24","o":74.3,"h":75.21,"l":74.01,"c":74.66,"v":292}
],
"hi":[{"d":"2023-09-28","p":95.03,"t":"┌최고95.03(2023/09/28),27.28%"}],
"lo":[{"d":"2023-05-04","p":63.64,"t":"└최저63.64(2023/05/04),14.76%"}],
"last":[{"d":"2025-01-24","p":74.66,"t":"74.66","q":"0.05%"}]
},
"vconcat":[
{
"width":746,"height":227,
"layer":[
{"data":{"name":"wti"},"mark":{"type":"rule","strokeWidth":1},
"encoding":{
"x":{"field":"d","type":"ordinal","scale":{"type":"band","range":[3,735],"paddingInner":0.15,"paddingOuter":0},
"axis":{"values":["2023-01-31","2023-03-01","2023-04-03","2023-05-01","2023-06-01","2023-07-03","2023-08-01","2023-09-01","2023-10-02","2023-11-01","2023-12-01","2024-01-02","2024-02-01","2024-03-01","2024-04-01","2024-05-01","2024-06-03","2024-07-01","2024-08-01","2024-09-03","2024-10-01","2024-11-01","2024-12-02","2025-01-02"],"labels":false,"ticks":false,"grid":true,"domain":true,"title":null}},
"y":{"field":"l","type":"quantitative","scale":{"domain":[62.95,97.12],"nice":false,"zero":false},
"axis":{"orient":"right","values":[64,66,68,70,72,76,78,80,82,84,86,88,90,92,94],"format":".2f","title":null,"grid":true,"domain":true,"labelOverlap":false,"labelSeparation":0}},
"y2":{"field":"h"},
"color":{"condition":{"test":"datum.c>=datum.o","value":"#f00000"},"value":"#1a1ad6"}}},
{"data":{"name":"wti"},"mark":{"type":"bar"},
"encoding":{
"x":{"field":"d","type":"ordinal"},
"y":{"field":"o","type":"quantitative","axis":{"orient":"right","values":[64,66,68,70,72,76,78,80,82,84,86,88,90,92,94],"format":".2f","title":null,"grid":true,"domain":true,"labelOverlap":false,"labelSeparation":0}},
"y2":{"field":"c"},
"color":{"condition":{"test":"datum.c>=datum.o","value":"#f00000"},"value":"#1a1ad6"}}},
{"data":{"name":"wti"},
"transform":[
{"window":[{"op":"mean","field":"c","as":"m5"}],"frame":[-4,0],"sort":[{"field":"d"}]},
{"window":[{"op":"mean","field":"c","as":"m20"}],"frame":[-19,0],"sort":[{"field":"d"}]},
{"window":[{"op":"mean","field":"c","as":"m60"}],"frame":[-59,0],"sort":[{"field":"d"}]},
{"window":[{"op":"mean","field":"c","as":"m120"}],"frame":[-119,0],"sort":[{"field":"d"}]},
{"window":[{"op":"row_number","as":"rn"}],"sort":[{"field":"d"}]},
{"fold":["m5","m20","m60","m120"],"as":["k","m"]},
{"filter":"datum.rn >= toNumber(slice(datum.k,1))"}
],
"mark":{"type":"line","strokeWidth":1,"interpolate":"linear"},
"encoding":{
"x":{"field":"d","type":"ordinal"},
"y":{"field":"m","type":"quantitative","axis":{"orient":"right","values":[64,66,68,70,72,76,78,80,82,84,86,88,90,92,94],"format":".2f","title":null,"grid":true,"domain":true,"labelOverlap":false,"labelSeparation":0}},
"color":{"field":"k","type":"nominal","scale":{"domain":["가격","m5","m20","m60","m120"],"range":["#f00000","#f59a9a","#e08ce6","#98c0ec","#6fd0b4"]},
"legend":{"orient":"top-left","direction":"horizontal","title":null,"symbolType":"M0,-1L0,1","symbolSize":30,"symbolStrokeWidth":2.5,"labelFontSize":7,"labelColor":"#666","offset":2,"padding":0,"columnPadding":3,"labelOffset":1,"labelExpr":"datum.label=='가격' ? '가격' : slice(datum.label,1)"}}}},
{"data":{"name":"hi"},"mark":{"type":"text","align":"left","baseline":"bottom","fontSize":7,"color":"#ff3030","dy":-1,"dx":-1},
"encoding":{"x":{"field":"d","type":"ordinal"},"y":{"field":"p","type":"quantitative","axis":{"orient":"right","values":[64,66,68,70,72,76,78,80,82,84,86,88,90,92,94],"format":".2f","title":null,"grid":true,"domain":true,"labelOverlap":false,"labelSeparation":0}},"text":{"field":"t"}}},
{"data":{"name":"lo"},"mark":{"type":"text","align":"left","baseline":"top","fontSize":7,"color":"#3030e0","dy":1,"dx":-1},
"encoding":{"x":{"field":"d","type":"ordinal"},"y":{"field":"p","type":"quantitative","axis":{"orient":"right","values":[64,66,68,70,72,76,78,80,82,84,86,88,90,92,94],"format":".2f","title":null,"grid":true,"domain":true,"labelOverlap":false,"labelSeparation":0}},"text":{"field":"t"}}},
{"data":{"name":"last"},"mark":{"type":"point","shape":"M-1,-0.27L1,-0.27L1,0.27L-1,0.27Z","size":529,"filled":true,"color":"#e80000","opacity":1,"xOffset":24},
"encoding":{"x":{"field":"d","type":"ordinal"},"y":{"field":"p","type":"quantitative","axis":{"orient":"right","values":[64,66,68,70,72,76,78,80,82,84,86,88,90,92,94],"format":".2f","title":null,"grid":true,"domain":true,"labelOverlap":false,"labelSeparation":0}}}},
{"data":{"name":"last"},"mark":{"type":"text","align":"center","baseline":"middle","fontSize":6,"font":"Liberation Sans","color":"white","dx":24},
"encoding":{"x":{"field":"d","type":"ordinal"},"y":{"field":"p","type":"quantitative","axis":{"orient":"right","values":[64,66,68,70,72,76,78,80,82,84,86,88,90,92,94],"format":".2f","title":null,"grid":true,"domain":true,"labelOverlap":false,"labelSeparation":0}},"text":{"field":"t"}}},
{"data":{"name":"last"},"mark":{"type":"text","align":"center","baseline":"middle","fontSize":6,"font":"Liberation Sans","color":"#e80000","dx":24,"dy":8},
"encoding":{"x":{"field":"d","type":"ordinal"},"y":{"field":"p","type":"quantitative","axis":{"orient":"right","values":[64,66,68,70,72,76,78,80,82,84,86,88,90,92,94],"format":".2f","title":null,"grid":true,"domain":true,"labelOverlap":false,"labelSeparation":0}},"text":{"field":"q"}}}
]
},
{
"width":746,"height":107,
"data":{"name":"wti"},
"title":{"text":"▮거래량","anchor":"start","fontSize":7,"color":"#b8a600","offset":-9,"dx":4},
"mark":{"type":"bar"},
"encoding":{
"x":{"field":"d","type":"ordinal","scale":{"type":"band","range":[3,735],"paddingInner":0.15,"paddingOuter":0},
"axis":{"values":["2023-01-31","2023-03-01","2023-04-03","2023-05-01","2023-06-01","2023-07-03","2023-08-01","2023-09-01","2023-10-02","2023-11-01","2023-12-01","2024-01-02","2024-02-01","2024-03-01","2024-04-01","2024-05-01","2024-06-03","2024-07-01","2024-08-01","2024-09-03","2024-10-01","2024-11-01","2024-12-02","2025-01-02"],
"labelExpr":"datum.value=='2023-01-31' ? '2023/01/31' : datum.value=='2023-03-01' ? '' : slice(datum.value,5,7)=='01' ? slice(datum.value,0,4)+'/01' : slice(datum.value,5,7)",
"labelAlign":"left","labelAngle":0,"labelOverlap":false,"labelPadding":2,"labelOffset":1,"ticks":false,"grid":true,"domain":false,"title":null}},
"y":{"field":"v","type":"quantitative","scale":{"domain":[0,700],"nice":false},
"axis":{"orient":"right","values":[0,100,200,300,400,500,600],"labelExpr":"format(datum.value*1000, ',')","title":null,"grid":true,"domain":true,"labelOverlap":false}},
"color":{"condition":{"test":"datum.c>=datum.o","value":"#f00000"},"value":"#1a1ad6"}}
}
]
}
